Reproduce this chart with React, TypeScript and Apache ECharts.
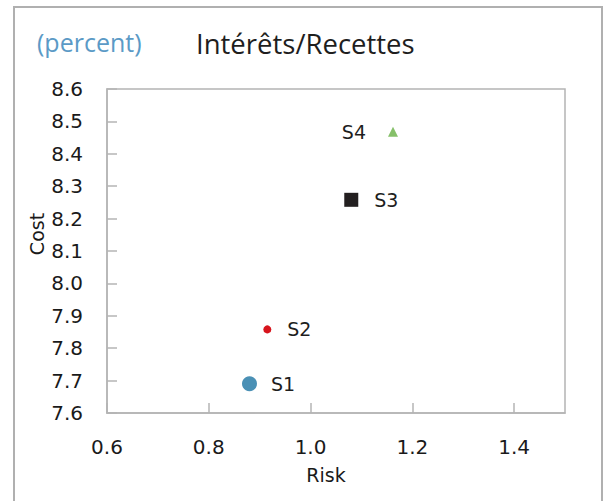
import React, { useEffect, useRef } from "react";
import * as echarts from "echarts";

const names = ["S1", "S2", "S3", "S4"];
const risk = [0.88, 0.915, 1.08, 1.162];
const cost = [7.69, 7.858, 8.258, 8.468];

const symbols = ["circle", "circle", "rect", "triangle"];
const sizes = [15, 8, 14, 10];
const colors = ["#4a90b5", "#d7141c", "#231f20", "#86c06a"];
const labelPos = ["right", "right", "right", "left"];
const labelDist = [14, 16, 16, 22];

const yMin = 7.6, yMax = 8.6, yStep = 0.1;
const xMin = 0.6, xMax = 1.5, xStep = 0.2;

export default function App() {
  const ref = useRef<HTMLDivElement>(null);
  useEffect(() => {
    if (!ref.current) return;
    const chart = echarts.init(ref.current, null, { renderer: "svg" });
    const gray = "#b4b4b4";
    const tickFont = { fontFamily: "DejaVu Sans", fontSize: 20, color: "#1a1a1a" };
    chart.setOption({
      animation: false,
      backgroundColor: "#fff",
      graphic: [
        {
          type: "rect",
          shape: { x: 14, y: 7, width: 588, height: 520 },
          style: { fill: "none", stroke: "#b0b0b0", lineWidth: 2 },
          silent: true,
        },
        {
          type: "text",
          x: 37,
          y: 42,
          style: {
            text: "(percent)",
            fontFamily: "Open Sans",
            fontSize: 25,
            fill: "#5b9ac6",
            verticalAlign: "middle",
          },
        },
        {
          type: "text",
          x: 196,
          y: 43,
          style: {
            text: "Intérêts/Recettes",
            fontFamily: "Open Sans",
            fontSize: 27.5,
            fill: "#1e1e1e",
            verticalAlign: "middle",
          },
        },
      ],
      grid: {
        left: 107,
        right: 41,
        top: 89,
        bottom: 88,
        show: true,
        borderColor: gray,
        borderWidth: 1.5,
      },
      xAxis: {
        type: "value",
        min: xMin,
        max: xMax,
        interval: xStep,
        name: "Risk",
        nameLocation: "middle",
        nameGap: 52,
        nameMoveOverlap: false,
        nameTextStyle: { fontFamily: "DejaVu Sans", fontSize: 19, color: "#1a1a1a", padding: [0, 20, 0, 0] },
        splitLine: { show: false },
        axisLine: { lineStyle: { color: gray, width: 1.5 } },
        axisTick: { inside: true, length: 10, lineStyle: { color: gray, width: 1.5 } },
        axisLabel: {
          ...tickFont,
          margin: 24,
          showMaxLabel: false,
          formatter: (v: number) => v.toFixed(1),
        },
      },
      yAxis: {
        type: "value",
        min: yMin,
        max: yMax,
        interval: yStep,
        name: "Cost",
        nameLocation: "middle",
        nameGap: 61,
        nameMoveOverlap: false,
        nameTextStyle: { fontFamily: "DejaVu Sans", fontSize: 19, color: "#1a1a1a", padding: [0, 0, 0, 34] },
        splitLine: { show: false },
        axisLine: { lineStyle: { color: gray, width: 1.5 } },
        axisTick: { inside: true, length: 10, lineStyle: { color: gray, width: 1.5 } },
        axisLabel: {
          ...tickFont,
          margin: 24,
          formatter: (v: number) => v.toFixed(1),
        },
      },
      series: names.map((n, i) => ({
        type: "scatter",
        name: n,
        symbol: symbols[i],
        symbolSize: sizes[i],
        itemStyle: { color: colors[i], opacity: 1 },
        label: {
          show: true,
          position: labelPos[i],
          distance: labelDist[i],
          formatter: n,
          fontFamily: "DejaVu Sans",
          fontSize: 19,
          color: "#1e1e1e",
        },
        data: [[risk[i], cost[i]]],
      })),
    });
    return () => chart.dispose();
  }, []);
  return (
    <div
      ref={ref}
      style={{ position: "fixed", left: 0, top: 0, width: 606, height: 501 }}
    />
  );
}
